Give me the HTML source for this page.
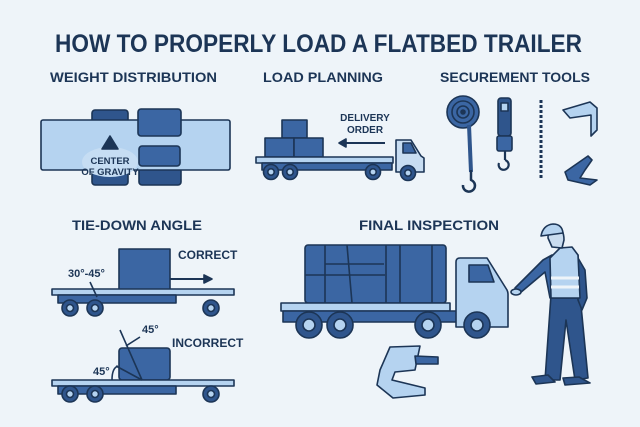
<!DOCTYPE html><html><head><style>html,body{margin:0;padding:0;background:#eef4f9}svg{display:block}text{font-family:"Liberation Sans",sans-serif;font-weight:bold;fill:#1c3556}</style></head><body>
<svg width="640" height="427" viewBox="0 0 640 427" xmlns="http://www.w3.org/2000/svg">
<rect width="640" height="427" fill="#eef4f9"/>
<g stroke="#1c3556" stroke-width="1.6" stroke-linejoin="round">
<text x="55" y="52" font-size="25" textLength="527" lengthAdjust="spacingAndGlyphs" stroke="none">HOW TO PROPERLY LOAD A FLATBED TRAILER</text>
<text x="50" y="82" font-size="14" textLength="167" lengthAdjust="spacingAndGlyphs" stroke="none">WEIGHT DISTRIBUTION</text>
<text x="263" y="82" font-size="14" textLength="120" lengthAdjust="spacingAndGlyphs" stroke="none">LOAD PLANNING</text>
<text x="440" y="82" font-size="14" textLength="150" lengthAdjust="spacingAndGlyphs" stroke="none">SECUREMENT TOOLS</text>
<text x="72" y="230" font-size="14" textLength="130" lengthAdjust="spacingAndGlyphs" stroke="none">TIE-DOWN ANGLE</text>
<text x="359" y="230" font-size="14" textLength="140" lengthAdjust="spacingAndGlyphs" stroke="none">FINAL INSPECTION</text>

<!-- weight distribution -->
<rect x="92" y="110" width="36" height="75" rx="3" fill="#2f558c"/>
<rect x="139" y="168" width="42" height="17" rx="3" fill="#2f558c"/>
<rect x="41" y="120" width="189" height="50" rx="2" fill="#b5d3f0"/>
<rect x="138" y="109" width="43" height="27" rx="3" fill="#3b66a3"/>
<rect x="139" y="146" width="41" height="20" rx="3" fill="#3b66a3"/>
<ellipse cx="110" cy="162" rx="28" ry="15" fill="#c6ddf3" stroke="none"/>
<path d="M110 136 L118 149 L102 149Z" fill="#1c3556"/>
<text x="110" y="164" font-size="9.5" text-anchor="middle" font-weight="normal" stroke="none">CENTER</text>
<text x="110" y="175" font-size="9.5" text-anchor="middle" font-weight="normal" stroke="none">OF GRAVITY</text>

<!-- load planning -->
<rect x="282" y="120" width="25" height="18" fill="#3b66a3"/>
<rect x="265" y="138" width="29" height="19" fill="#3b66a3"/>
<rect x="294" y="138" width="29" height="19" fill="#3b66a3"/>
<rect x="256" y="157" width="137" height="6" fill="#b5d3f0"/>
<rect x="262" y="163" width="130" height="7" fill="#3b66a3"/>
<path d="M396 167 L396 140 L411 140 L421 156 L424 158 L424 172 L396 172Z" fill="#c8ddf2"/>
<path d="M403 143 L411 143 L416 153 L403 153Z" fill="#3b66a3"/>
<circle cx="271" cy="172" r="7.5" fill="#2f558c"/><circle cx="271" cy="172" r="3.2" fill="#b5d3f0"/>
<circle cx="290" cy="172" r="7.5" fill="#2f558c"/><circle cx="290" cy="172" r="3.2" fill="#b5d3f0"/>
<circle cx="373" cy="172" r="7.5" fill="#2f558c"/><circle cx="373" cy="172" r="3.2" fill="#b5d3f0"/>
<circle cx="408" cy="173" r="7.5" fill="#2f558c"/><circle cx="408" cy="173" r="3.2" fill="#b5d3f0"/>
<path d="M385 143 L343 143" stroke-width="2"/><path d="M339 143 L346 139 L346 147Z" fill="#1c3556"/>
<text x="365" y="121" font-size="10" text-anchor="middle" stroke="none" font-weight="normal">DELIVERY</text>
<text x="365" y="133" font-size="10" text-anchor="middle" stroke="none" font-weight="normal">ORDER</text>

<!-- securement -->
<circle cx="463" cy="112" r="16" fill="#3b66a3"/><circle cx="463" cy="112" r="11" fill="none"/><circle cx="463" cy="112" r="6" fill="none"/><circle cx="463" cy="112" r="2" fill="#1c3556"/>
<path d="M469 125 L471 172" stroke-width="4" stroke="#2f558c"/>
<path d="M471 170 L471 180 A6 6 0 1 1 463 185" fill="none" stroke-width="2.5"/>
<rect x="498" y="98" width="13" height="38" rx="3" fill="#2f558c"/>
<rect x="501" y="103" width="7" height="8" fill="#b5d3f0"/>
<rect x="497" y="136" width="15" height="15" rx="2" fill="#3b66a3"/>
<path d="M505 151 L505 160 M505 160 A5 5 0 1 1 499 163" fill="none" stroke-width="2.2"/>
<path d="M541 100 L541 180" stroke-width="3" stroke-dasharray="3 2" fill="none"/>
<path d="M563 110 L590 102 L597 108 L597 130 L591 136 L591 115 L570 118 Z" fill="#b5d3f0"/>
<path d="M568 180 L565 172 L588 156 L592 160 L585 170 L580 178 L597 180 L590 185 Z" fill="#3b66a3"/>

<!-- tie-down correct -->
<rect x="119" y="249" width="51" height="41" fill="#3b66a3"/>
<rect x="52" y="289" width="182" height="6" fill="#b5d3f0"/>
<rect x="58" y="295" width="118" height="8" fill="#3b66a3"/>
<circle cx="70" cy="308" r="8" fill="#2f558c"/><circle cx="70" cy="308" r="3.5" fill="#b5d3f0"/>
<circle cx="95" cy="308" r="8" fill="#2f558c"/><circle cx="95" cy="308" r="3.5" fill="#b5d3f0"/>
<circle cx="211" cy="308" r="8" fill="#2f558c"/><circle cx="211" cy="308" r="3.5" fill="#b5d3f0"/>
<path d="M170 279 L205 279" stroke-width="2"/><path d="M212 279 L204 275 L204 283Z" fill="#1c3556"/>
<path d="M90 282 L97 297" fill="none"/>
<text x="178" y="259" font-size="12" stroke="none">CORRECT</text>
<text x="68" y="277" font-size="11" stroke="none" font-weight="normal">30°-45°</text>
<!-- incorrect -->
<rect x="119" y="348" width="51" height="32" rx="3" fill="#3b66a3"/>
<rect x="52" y="380" width="182" height="6" fill="#b5d3f0"/>
<rect x="58" y="386" width="118" height="8" fill="#3b66a3"/>
<circle cx="70" cy="394" r="8" fill="#2f558c"/><circle cx="70" cy="394" r="3.5" fill="#b5d3f0"/>
<circle cx="95" cy="394" r="8" fill="#2f558c"/><circle cx="95" cy="394" r="3.5" fill="#b5d3f0"/>
<circle cx="211" cy="394" r="8" fill="#2f558c"/><circle cx="211" cy="394" r="3.5" fill="#b5d3f0"/>
<path d="M120 330 L142 380 M126 346 L140 337 M116 366 L142 380 M112 380 Q112 368 118 366" fill="none"/>
<text x="142" y="333" font-size="11" stroke="none" font-weight="normal">45°</text>
<text x="93" y="375" font-size="11" stroke="none" font-weight="normal">45°</text>
<text x="172" y="347" font-size="12" stroke="none">INCORRECT</text>

<!-- final inspection truck -->
<rect x="305" y="245" width="141" height="58" rx="3" fill="#3b66a3"/>
<path d="M325 245 L325 303 M347 245 L352 303 M386 245 L386 303 M400 245 L400 303 M432 245 L432 303 M305 275 L385 275 M325 264 L384 264" fill="none"/>
<rect x="281" y="303" width="169" height="8" fill="#b5d3f0"/>
<rect x="283" y="311" width="175" height="11" fill="#3b66a3"/>
<path d="M456 323 L456 262 Q456 258 460 258 L487 258 L507 290 Q508 292 508 294 L508 327 L456 327Z" fill="#b5d3f0"/>
<path d="M469 265 L488 265 L494 282 L469 282Z" fill="#3b66a3"/>
<circle cx="309" cy="325" r="13" fill="#2f558c"/><circle cx="309" cy="325" r="6" fill="#b5d3f0"/>
<circle cx="340" cy="325" r="13" fill="#2f558c"/><circle cx="340" cy="325" r="6" fill="#b5d3f0"/>
<circle cx="428" cy="325" r="13" fill="#2f558c"/><circle cx="428" cy="325" r="6" fill="#b5d3f0"/>
<circle cx="477" cy="325" r="13" fill="#2f558c"/><circle cx="477" cy="325" r="6" fill="#b5d3f0"/>
<!-- clamp -->
<path d="M380 370 L390 347 L420 346 L415 370 L395 372 L392 380 L425 388 L425 395 L393 398 L377 385 Z" fill="#b5d3f0"/>
<path d="M415 356 L438 357 L438 364 L416 364Z" fill="#3b66a3"/>
<!-- worker -->
<path d="M551 295 L545 380 L560 380 L566 320 L575 380 L588 378 L580 295 Z" fill="#2f558c"/>
<path d="M563 378 L579 377 L590 383 L565 385Z M532 377 L548 375 L555 382 L536 384Z" fill="#2f558c"/>
<path d="M552 255 L543 260 L515 288 L520 293 L545 272 L550 298 L580 298 L578 255 Z" fill="#3b66a3"/>
<path d="M578 258 L585 270 L587 298 L582 310 L578 300 Z" fill="#2f558c"/>
<path d="M550 258 L560 248 L572 247 L578 255 L580 298 L551 298 Z" fill="#b5d3f0"/>
<path d="M551 278 L579 278 M551 287 L579 287" stroke="#eef4f9" stroke-width="3"/>
<ellipse cx="516" cy="292" rx="5" ry="3" fill="#b5d3f0"/>
<path d="M548 238 Q548 228 556 228 Q564 228 564 240 L562 248 L552 247Z" fill="#c9dcef"/>
<path d="M541 236 Q543 225 553 224 Q562 224 563 233 Z" fill="#b5d3f0"/>
</g>
</svg></body></html>
